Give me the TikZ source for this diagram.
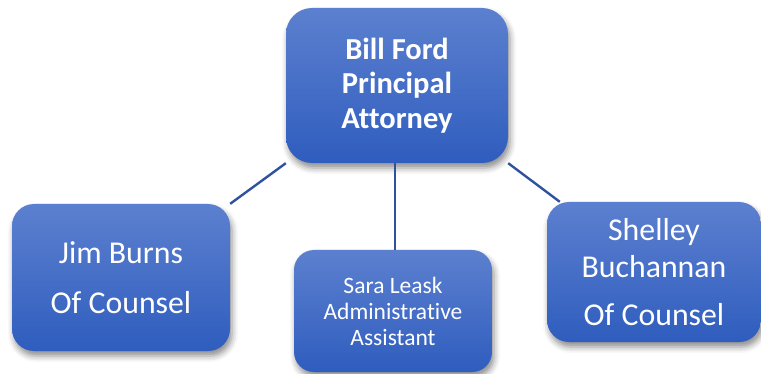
\documentclass[tikz,border=0pt]{standalone}
\usepackage{fontspec}
\setmainfont[Ligatures={NoCommon}]{Carlito}
\usetikzlibrary{shadows.blur}
\definecolor{boxtop}{RGB}{92,128,207}
\definecolor{boxbottom}{RGB}{47,93,190}
\definecolor{linkblue}{RGB}{47,82,158}
\tikzset{
  orgbox/.style={
    rectangle, inner sep=0pt, align=center, text=white,
    top color=boxtop, bottom color=boxbottom, draw=none,
    blur shadow={shadow xshift=2pt, shadow yshift=-5pt,
                 shadow blur radius=6pt, shadow opacity=45}
  },
  link/.style={draw=linkblue, line width=2.4pt}
}
\begin{document}
\begin{tikzpicture}[x=1pt, y=-1pt]
  \useasboundingbox (0,0) rectangle (761,374);

  % principal attorney
  \node[orgbox, rounded corners=26pt, minimum width=222pt, minimum height=155pt,
        font=\bfseries\fontsize{30.5}{34.5}\selectfont]
    (top) at (397,85.5) {Bill Ford\\Principal\\Attorney};

  % staff
  \node[orgbox, rounded corners=22pt, minimum width=218pt, minimum height=147pt,
        font=\fontsize{31.8}{50}\selectfont]
    (left) at (121,277.5) {Jim Burns\\Of Counsel};
  \node[orgbox, rounded corners=20pt, minimum width=198pt, minimum height=122pt,
        font=\fontsize{23.5}{26}\selectfont]
    (mid) at (393,311) {Sara Leask\\Administrative\\Assistant};
  \node[orgbox, rounded corners=22pt, minimum width=214pt, minimum height=140pt,
        font=\fontsize{31.8}{37}\selectfont]
    (right) at (654,272) {Shelley\\Buchannan\\[11pt]Of Counsel};

  % connectors
  \draw[link] (top.south west) -- (left.north east);
  \draw[link] ([xshift=-2pt]top.south) -- ([xshift=-2pt]top.south |- mid.north);
  \draw[link] (top.south east) -- ([xshift=13pt]right.north west);
\end{tikzpicture}
\end{document}
